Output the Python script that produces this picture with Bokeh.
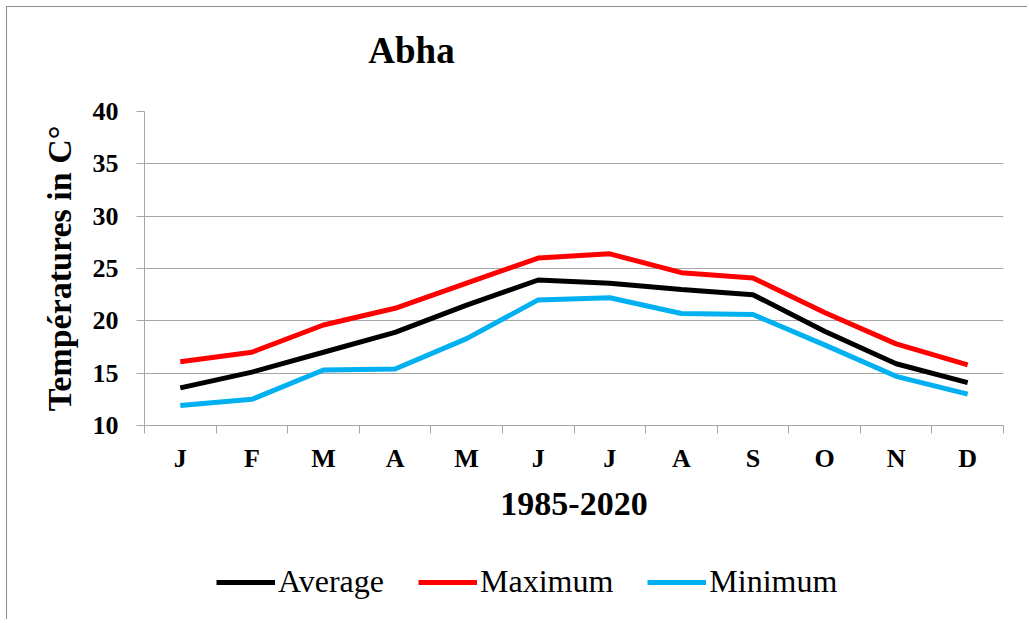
from bokeh.plotting import figure
from bokeh.layouts import column
from bokeh.models import FixedTicker, Legend, LegendItem, ColumnDataSource, Label, Range1d
from bokeh.embed import file_html
from bokeh.resources import INLINE

months = ["J", "F", "M", "A", "M", "J", "J", "A", "S", "O", "N", "D"]
average = [13.6, 15.1, 17.0, 18.9, 21.5, 23.9, 23.6, 23.0, 22.5, 19.0, 15.9, 14.1]
maximum = [16.1, 17.0, 19.6, 21.2, 23.6, 26.0, 26.4, 24.6, 24.1, 20.8, 17.8, 15.8]
minimum = [11.9, 12.5, 15.3, 15.4, 18.3, 22.0, 22.2, 20.7, 20.6, 17.7, 14.7, 13.0]
y_ticks = [10, 15, 20, 25, 30, 35, 40]
series_names = ["Average", "Maximum", "Minimum"]
series_colors = ["#000000", "#ff0000", "#00b0f0"]

FONT = "Liberation Serif"
GRID = "#a6a6a6"
W = 1020
LW = 5

xs = [i + 0.5 for i in range(len(months))]
src = ColumnDataSource(dict(x=xs, avg=average, mx=maximum, mn=minimum))
cols = ["avg", "mx", "mn"]


def blank(height):
    f = figure(width=W, height=height, x_range=Range1d(0, 1), y_range=Range1d(0, 1),
               x_axis_location=None, y_axis_location=None,
               min_border_left=0, min_border_right=0, min_border_top=0, min_border_bottom=0,
               output_backend="svg", toolbar_location=None)
    f.outline_line_color = None
    f.grid.grid_line_color = None
    f.background_fill_color = "white"
    f.border_fill_color = "white"
    return f


# ---- title strip ----
top = blank(80)
top.add_layout(Label(x=267, y=37.5, x_units="screen", y_units="screen", text="Abha",
                     text_font=FONT, text_font_style="bold", text_font_size="37px",
                     text_align="center", text_baseline="middle", text_color="black"))

# ---- main chart ----
p = figure(width=W, height=24 + 314 + 110,
           min_border_left=137, min_border_right=W - 137 - 859,
           min_border_top=24, min_border_bottom=110,
           x_range=(0, 12), y_range=(10, 40),
           output_backend="svg", toolbar_location=None)
p.outline_line_color = None
p.background_fill_color = "white"
p.border_fill_color = "white"

for col, c in zip(cols, series_colors):
    p.line("x", col, source=src, line_color=c, line_width=LW)

p.xaxis.ticker = FixedTicker(ticks=xs, minor_ticks=list(range(13)))
p.xaxis.major_label_overrides = {x: m for x, m in zip(xs, months)}
p.xaxis.major_tick_line_color = None
p.xaxis.minor_tick_line_color = GRID
p.xaxis.minor_tick_in = 0
p.xaxis.minor_tick_out = 8
p.xaxis.axis_line_color = GRID
p.xaxis.major_label_text_font = FONT
p.xaxis.major_label_text_font_style = "bold"
p.xaxis.major_label_text_font_size = "26px"
p.xaxis.major_label_text_color = "black"
p.xaxis.major_label_standoff = 10
p.xaxis.axis_label = "1985-2020"
p.xaxis.axis_label_text_font = FONT
p.xaxis.axis_label_text_font_style = "bold"
p.xaxis.axis_label_text_font_size = "34px"
p.xaxis.axis_label_text_color = "black"
p.xaxis.axis_label_standoff = 17

p.yaxis.ticker = FixedTicker(ticks=y_ticks)
p.yaxis.minor_tick_line_color = None
p.yaxis.major_tick_line_color = GRID
p.yaxis.major_tick_in = 0
p.yaxis.major_tick_out = 8
p.yaxis.axis_line_color = GRID
p.yaxis.major_label_text_font = FONT
p.yaxis.major_label_text_font_style = "bold"
p.yaxis.major_label_text_font_size = "26px"
p.yaxis.major_label_text_color = "black"
p.yaxis.major_label_standoff = 18
p.yaxis.axis_label = "Températures in C°"
p.yaxis.axis_label_text_font = FONT
p.yaxis.axis_label_text_font_style = "bold"
p.yaxis.axis_label_text_font_size = "34px"
p.yaxis.axis_label_text_color = "black"
p.yaxis.axis_label_standoff = 12

p.xgrid.grid_line_color = None
p.ygrid.ticker = FixedTicker(ticks=y_ticks)
p.ygrid.grid_line_color = GRID
p.ygrid.grid_line_width = 1

# ---- legend strip (series lines fall outside this strip's 0..1 range) ----
leg = blank(84)
items = []
for name, col, c in zip(series_names, cols, series_colors):
    r = leg.line("x", col, source=src, line_color=c, line_width=LW)
    items.append(LegendItem(label=name, renderers=[r]))
legend = Legend(items=items, orientation="horizontal", location=(72, 19),
                glyph_width=59, glyph_height=36, label_height=36,
                label_standoff=3, spacing=34, padding=0, margin=0,
                border_line_color=None, background_fill_alpha=0,
                label_text_font=FONT, label_text_font_size="32px",
                label_text_color="black")
leg.add_layout(legend, "center")

layout = column(top, p, leg, spacing=0)
layout.styles = {"margin-left": "6px", "margin-top": "6px",
                 "border-left": "1px solid #8c8c8c", "border-top": "1px solid #8c8c8c"}

open("out.html", "w").write(file_html(layout, INLINE))
